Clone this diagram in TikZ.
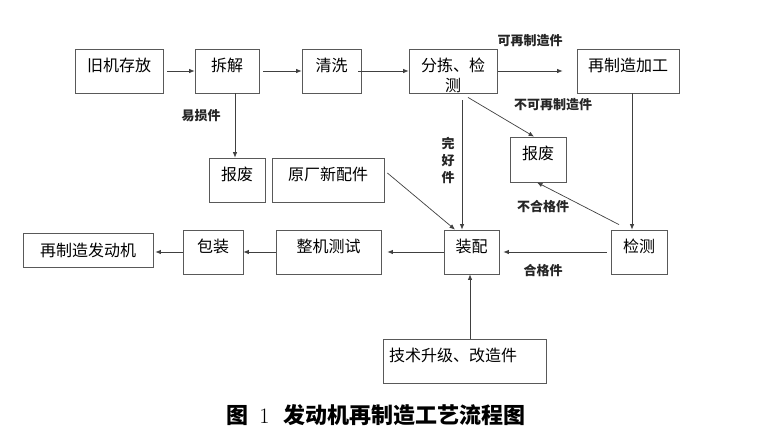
\documentclass[tikz,border=0pt]{standalone}
\usepackage{fontspec}
\newfontfamily\cjk{Noto Sans CJK SC}
\usetikzlibrary{arrows.meta}
\begin{document}
\begin{tikzpicture}[x=1pt,y=-1pt,
  box/.style={draw=black!65, line width=0.8pt, minimum height=44pt, text height=20pt, text depth=20pt, inner ysep=2pt, inner xsep=2pt, font=\cjk\fontsize{16}{20}\selectfont},
  arr/.style={draw=black!75, line width=0.7pt, -{Latex[length=5.5pt,width=4.5pt]}},
  lab/.style={font=\cjk\bfseries\fontsize{13}{16}\selectfont, text=black!85, inner sep=1pt}]
\path[use as bounding box, fill=white] (0,0) rectangle (760,447);

% boxes
\node[box, minimum width=88pt] (old) at (119,71) {旧机存放};
\node[box, minimum width=64pt] (dis) at (227,71) {拆解};
\node[box, minimum width=59pt] (clean) at (331.5,71) {清洗};
\node[box, minimum width=88pt, align=center, text height=40pt, text depth=0pt] (sort) at (453,71) {分拣、检\\测};
\node[box, minimum width=102pt] (reman) at (628,71) {再制造加工};
\node[box, minimum width=56pt] (scrapA) at (237,180) {报废};
\node[box, minimum width=112pt] (newp) at (328,180) {原厂新配件};
\node[box, minimum width=56pt, minimum height=45pt] (scrapB) at (538,159.5) {报废};
\node[box, minimum width=56pt] (insp) at (639,252) {检测};
\node[box, minimum width=55pt] (asm) at (471.5,252) {装配};
\node[box, minimum width=105pt] (test) at (328.5,252) {整机测试};
\node[box, minimum width=60pt] (pack) at (213,252) {包装};
\node[draw=black!65, line width=0.8pt, minimum width=130pt, minimum height=34pt, inner sep=2pt, font=\cjk\fontsize{16}{20}\selectfont] (engine) at (88,250) {再制造发动机};
\node[box, text width=151pt, inner xsep=6pt, align=left] (tech) at (464.5,361) {技术升级、改造件};

% connectors
\draw[arr] ([xshift=4pt]old.east) -- (dis.west);
\draw[arr] ([xshift=4pt]dis.east) -- (clean.west);
\draw[arr] ([xshift=-3pt]clean.east) -- (sort.west);
\draw[arr] ([xshift=1pt]sort.east) -- ([xshift=-14pt]reman.west);
\draw[arr] ([xshift=15pt,yshift=-4pt]sort.south) -- ([xshift=-4pt]scrapB.north);
\draw[arr] ([xshift=9pt,yshift=-7pt]sort.south) -- ([xshift=-9.5pt]asm.north);
\draw[arr] ([xshift=3pt,yshift=7pt]newp.east) -- ([xshift=-16.5pt]asm.north);
\draw[arr] ([xshift=8pt]dis.south) -- ([xshift=-2pt]scrapA.north);
\draw[arr] ([xshift=4pt]reman.south) -- ([xshift=-7pt]insp.north);
\draw[arr] ([xshift=-20pt,yshift=5pt]insp.north) -- ([xshift=-1pt]scrapB.south);
\draw[arr] ([xshift=-4pt]insp.west) -- ([xshift=4pt]asm.east);
\draw[arr] (asm.west) -- ([xshift=6pt]test.east);
\draw[arr] (test.west) -- (pack.east);
\draw[arr] (pack.west) -- ([xshift=2pt]pack.west -| engine.east);
\draw[arr] ([xshift=5.5pt]tech.north) -- ([xshift=-1.5pt]asm.south);

% labels
\node[lab] (l1) at (530,41) {可再制造件};
\node[lab] (l2) at (553,105) {不可再制造件};
\node[lab, align=center, font=\cjk\bfseries\fontsize{13}{17}\selectfont] (l3) at (448,160) {完\\好\\件};
\node[lab] (l4) at (201,116) {易损件};
\node[lab] (l5) at (543,207) {不合格件};
\node[lab] (l6) at (543,271) {合格件};

% title
\node[inner sep=0pt, font=\cjk\bfseries\fontsize{22}{26}\selectfont] (title) at (376,415) {图\hspace{11pt}{\rmfamily\mdseries 1}\hspace{14pt}发动机再制造工艺流程图};
\end{tikzpicture}
\end{document}
